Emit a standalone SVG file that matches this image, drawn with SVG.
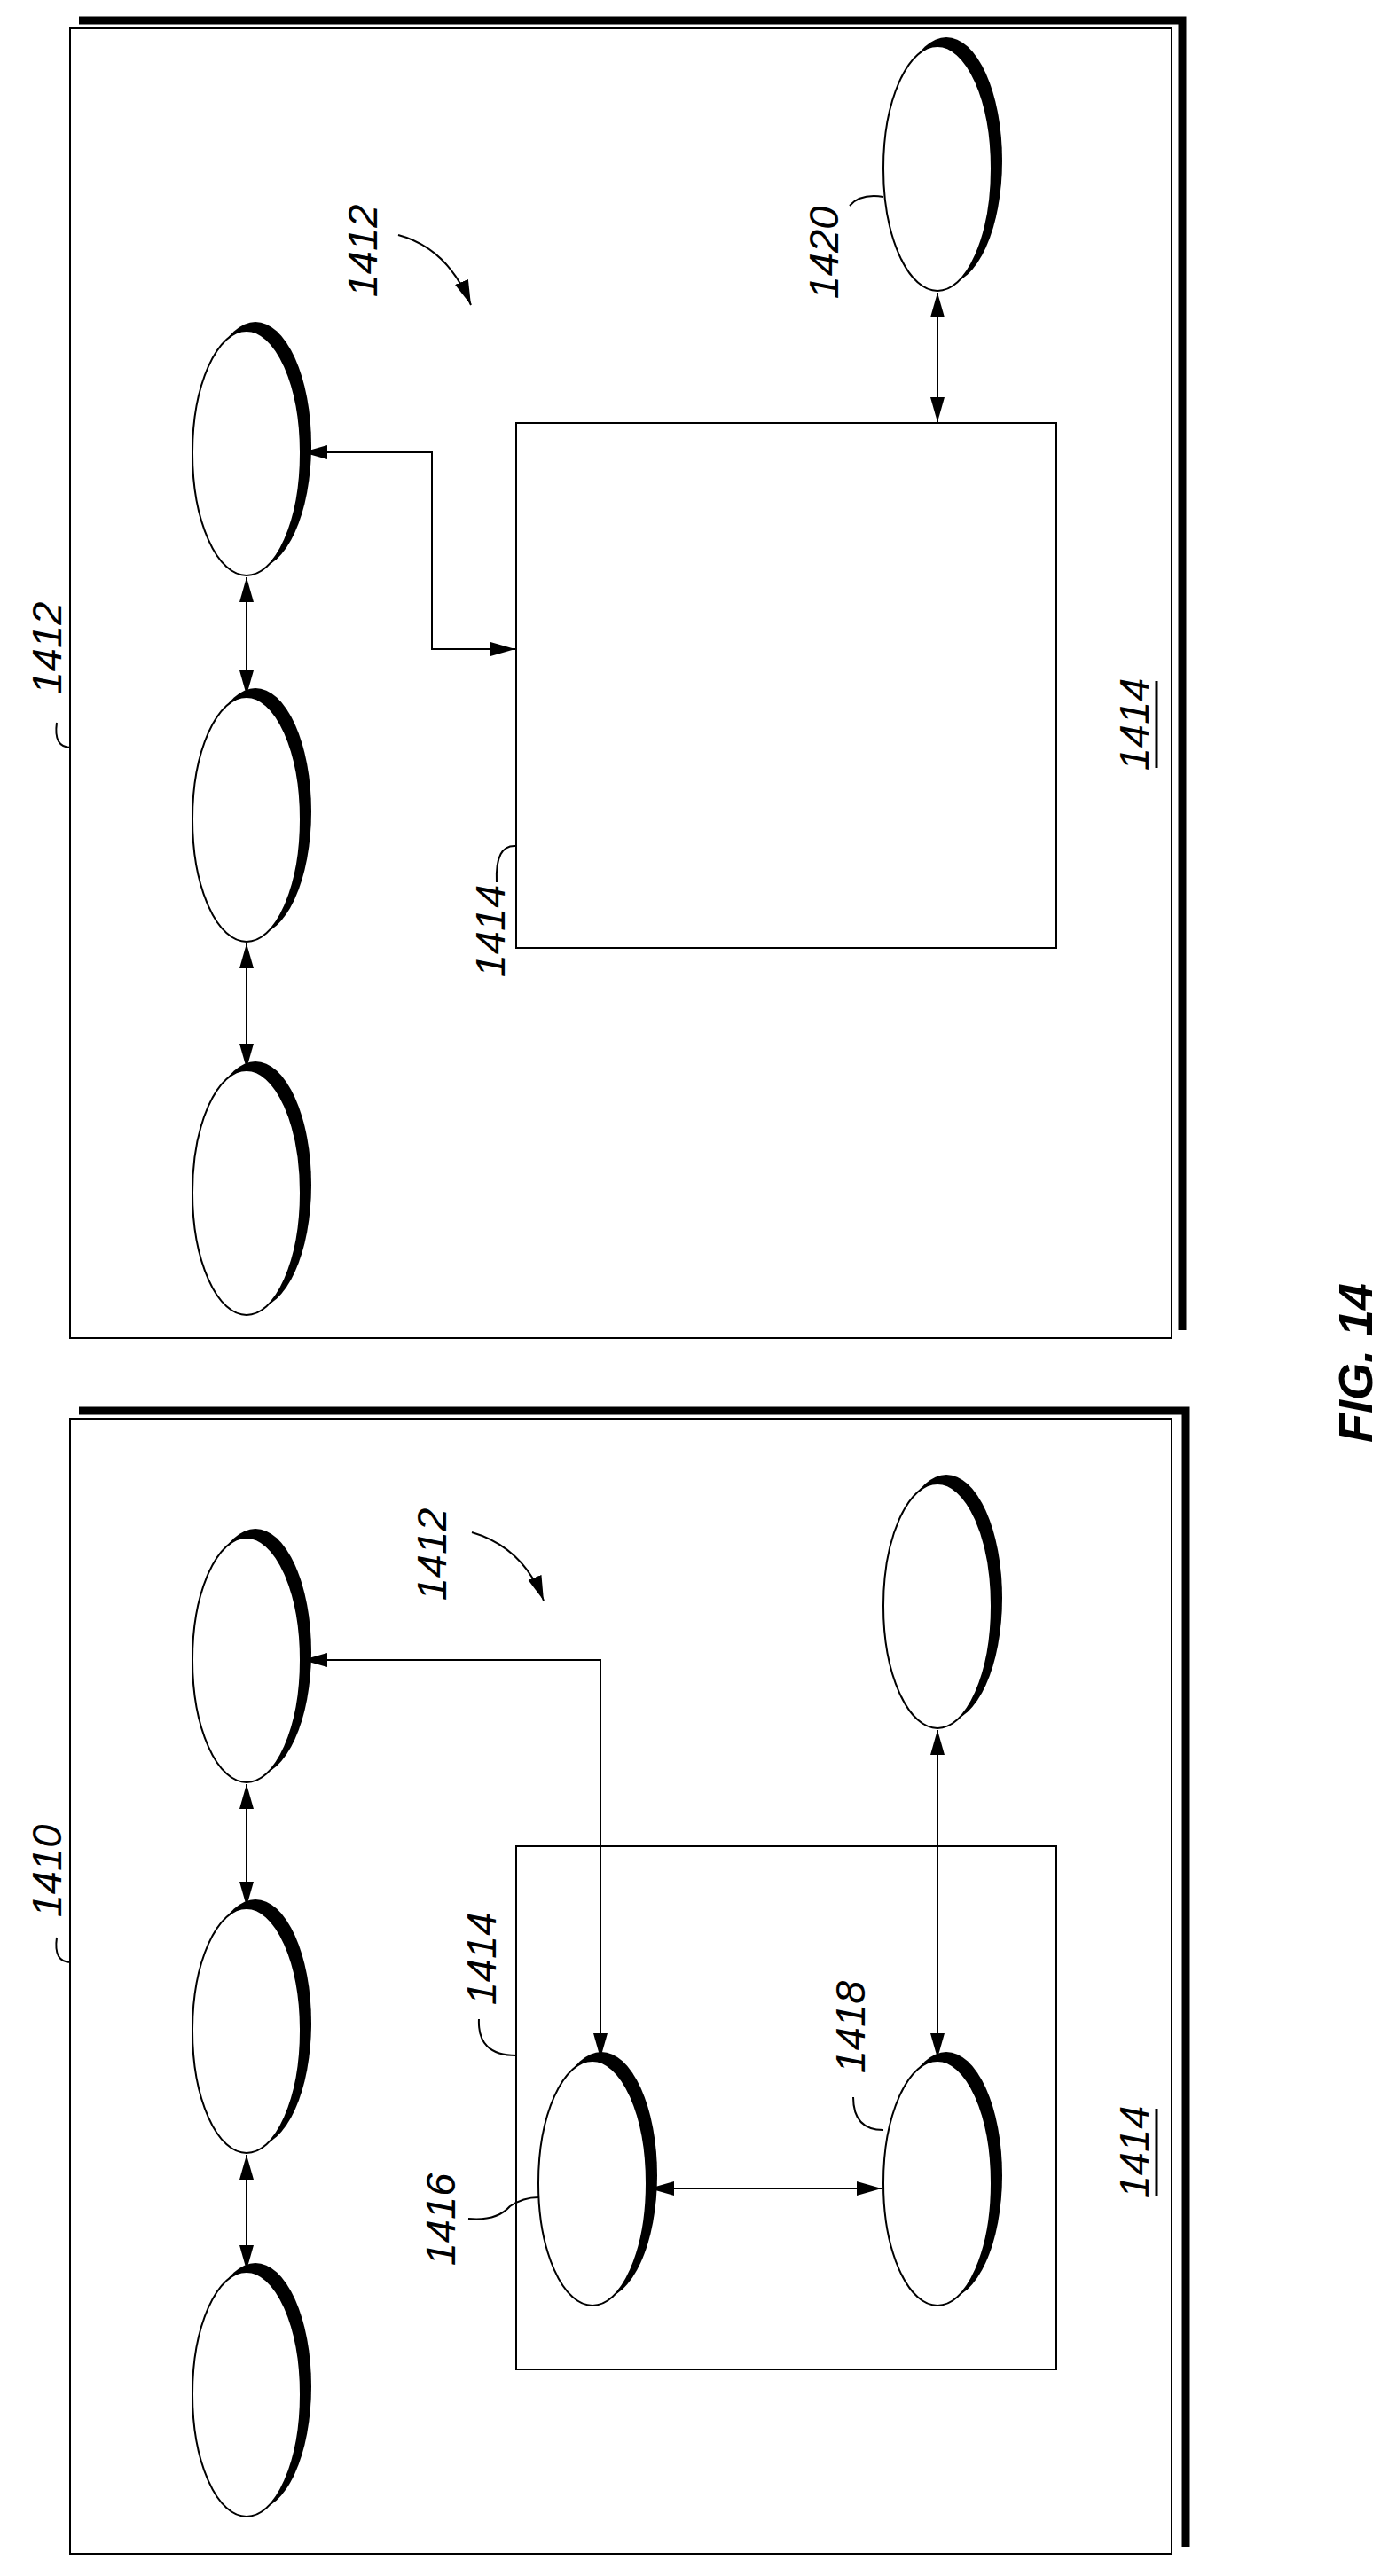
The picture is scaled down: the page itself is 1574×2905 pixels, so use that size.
<svg xmlns="http://www.w3.org/2000/svg" width="1574" height="2905" viewBox="0 0 1574 2905">
<style>
.fr{fill:none;stroke:#000;stroke-width:2}
.thick{fill:none;stroke:#000;stroke-width:9}
.sh{fill:#000}
.el{fill:#fff;stroke:#000;stroke-width:2}
.ln{fill:none;stroke:#000;stroke-width:2}
.ul{fill:none;stroke:#000;stroke-width:3}
.t{font-family:"Liberation Sans",Arial,sans-serif;font-style:italic;font-size:47px;fill:#000;text-anchor:middle;dominant-baseline:central}
.fig{font-family:"Liberation Sans",Arial,sans-serif;font-style:italic;font-weight:bold;font-size:54px;fill:#000;text-anchor:middle;dominant-baseline:central}
</style>
<defs>
<marker id="a" markerUnits="userSpaceOnUse" markerWidth="30" markerHeight="20" refX="28" refY="10" orient="auto-start-reverse" viewBox="0 0 30 20"><path d="M0,2 L28,10 L0,18 Z" fill="#000"/></marker>
<g id="node"><ellipse class="sh" cx="10" cy="-9" rx="63" ry="139"/><ellipse class="el" cx="0" cy="0" rx="61" ry="138"/></g>
</defs>
<g id="panel-top">
<rect class="fr" x="79" y="32" width="1242" height="1477"/>
<polyline class="thick" points="89,23 1333,23 1333,1500"/>
</g>
<g id="panel-bottom">
<rect class="fr" x="79" y="1600" width="1242" height="1280"/>
<polyline class="thick" points="89,1591 1337,1591 1337,2872"/>
</g>
<g id="box-top"><rect class="fr" x="582" y="477" width="609" height="592"/></g>
<g id="box-bottom"><rect class="fr" x="582" y="2082" width="609" height="590"/></g>
<g id="n1"><use href="#node" x="278" y="511"/></g>
<g id="n2"><use href="#node" x="278" y="924"/></g>
<g id="n3"><use href="#node" x="278" y="1345"/></g>
<g id="n1420"><use href="#node" x="1057" y="190"/></g>
<g id="n4"><use href="#node" x="278" y="1872"/></g>
<g id="n5"><use href="#node" x="278" y="2290"/></g>
<g id="n6"><use href="#node" x="278" y="2700"/></g>
<g id="n7"><use href="#node" x="1057" y="1811"/></g>
<g id="n1416"><use href="#node" x="668" y="2462"/></g>
<g id="n1418"><use href="#node" x="1057" y="2462"/></g>
<g id="connectors">
<line class="ln" x1="278" y1="651" x2="278" y2="784" marker-start="url(#a)" marker-end="url(#a)"/>
<line class="ln" x1="278" y1="1064" x2="278" y2="1205" marker-start="url(#a)" marker-end="url(#a)"/>
<polyline class="ln" points="341,510 487,510 487,732 581,732" marker-start="url(#a)" marker-end="url(#a)"/>
<line class="ln" x1="1057" y1="330" x2="1057" y2="476" marker-start="url(#a)" marker-end="url(#a)"/>
<line class="ln" x1="278" y1="2012" x2="278" y2="2150" marker-start="url(#a)" marker-end="url(#a)"/>
<line class="ln" x1="278" y1="2430" x2="278" y2="2560" marker-start="url(#a)" marker-end="url(#a)"/>
<polyline class="ln" points="341,1872 677,1872 677,2321" marker-start="url(#a)" marker-end="url(#a)"/>
<line class="ln" x1="1057" y1="1951" x2="1057" y2="2321" marker-start="url(#a)" marker-end="url(#a)"/>
<line class="ln" x1="732" y1="2468" x2="994" y2="2468" marker-start="url(#a)" marker-end="url(#a)"/>
<path class="ln" d="M449,265 Q505,280 531,344" marker-end="url(#a)"/>
<path class="ln" d="M532,1728 Q590,1745 613,1805" marker-end="url(#a)"/>
<path class="ln" d="M958,232 Q970,218 996,222"/>
<path class="ln" d="M64,815 Q60,843 80,843"/>
<path class="ln" d="M64,2185 Q60,2213 80,2213"/>
<path class="ln" d="M560,995 Q558,952 582,954"/>
<path class="ln" d="M540,2277 Q538,2318 582,2318"/>
<path class="ln" d="M962,2365 Q962,2402 996,2402"/>
<path class="ln" d="M528,2502 Q560,2505 575,2488 Q590,2478 607,2478"/>
<path class="ul" d="M1304,768 L1304,866"/>
<path class="ul" d="M1304,2378 L1304,2476"/>
</g>
<g id="labels">
<text class="t" transform="translate(408,283) rotate(-90)">1412</text>
<text class="t" transform="translate(52,731) rotate(-90)">1412</text>
<text class="t" transform="translate(928,285) rotate(-90)">1420</text>
<text class="t" transform="translate(552,1050) rotate(-90)">1414</text>
<text class="t" transform="translate(1278,817) rotate(-90)">1414</text>
<text class="t" transform="translate(486,1753) rotate(-90)">1412</text>
<text class="t" transform="translate(52,2110) rotate(-90)">1410</text>
<text class="t" transform="translate(542,2209) rotate(-90)">1414</text>
<text class="t" transform="translate(958,2286) rotate(-90)">1418</text>
<text class="t" transform="translate(496,2503) rotate(-90)">1416</text>
<text class="t" transform="translate(1278,2427) rotate(-90)">1414</text>
<text class="fig" transform="translate(1528,1537) rotate(-90)">FIG. 14</text>
</g>
</svg>
